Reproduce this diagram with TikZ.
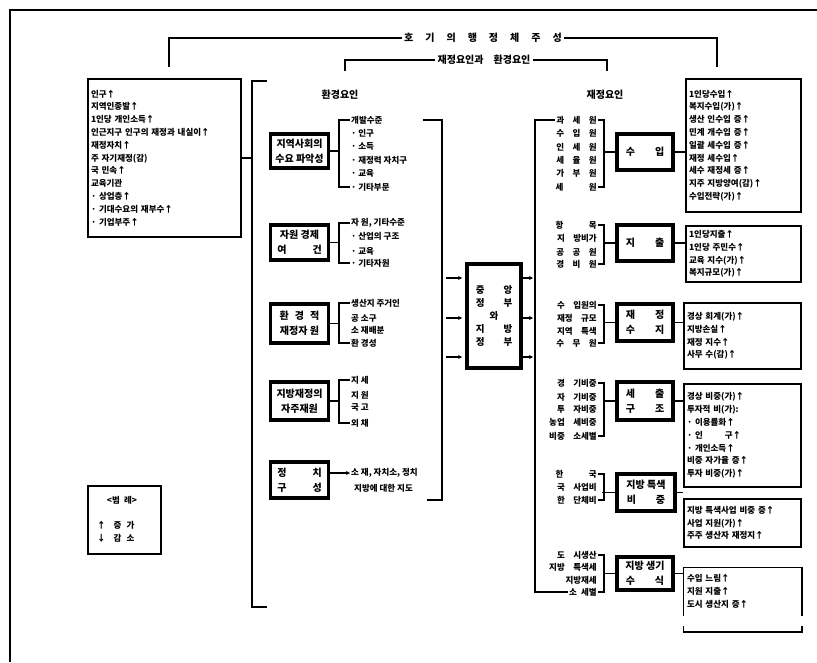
\documentclass[tikz,border=0pt]{standalone}
\usepackage{fontspec}
\setmainfont{Noto Sans CJK KR}
\usetikzlibrary{positioning,arrows.meta}

\newcommand\ksize{\fontsize{8.5}{12.8}\selectfont\bfseries}
\newcommand\bsize{\fontsize{10}{15}\selectfont\bfseries}
\newcommand\gp{\hspace{1.2em}}

\tikzset{
  line/.style={line width=1.5pt},
  thinbox/.style={draw, line width=1.5pt, inner sep=3pt, align=left, text width=#1},
  thickbox/.style={draw, line width=3.8pt, inner sep=0pt, align=center, font=\bsize, minimum width=58pt},
  item/.style={inner sep=1pt, anchor=west},
  ritem/.style={inner sep=1pt, anchor=east},
  lbl/.style={inner sep=2pt, font=\fontsize{10}{12}\selectfont\bfseries},
  arr/.style={-{Stealth[length=4pt,width=4pt]}, line width=1.2pt},
}

\begin{document}
\begin{tikzpicture}[x=1pt,y=-1pt,font=\ksize]
\useasboundingbox (0,0) rectangle (817,662);
\draw[line width=2pt] (10,662) -- (10,10) -- (817,10);

% top brackets
\node[lbl] (title) at (483,38) {호\gp 기\gp 의\gp 행\gp 정\gp 체\gp 주\gp 성};
\coordinate (tl) at (169,67);
\coordinate (tr) at (717,67);
\draw[line] (tl) |- (title.west);
\draw[line] (title.east) -| (tr);

\node[lbl] (mid) at (484,60) {재정요인과\quad 환경요인};
\coordinate (ml) at (345,71);
\coordinate (mr) at (607,71);
\draw[line] (ml) |- (mid.west);
\draw[line] (mid.east) -| (mr);

\node[lbl] (env) at (340,95) {환경요인};
\node[lbl] (fin) at (605,95) {재정요인};

% left box
\node[thinbox=147pt, minimum height=158pt] (lbox) at (164.5,158) {인구↑\\
지역인종발↑\\
1인당 개인소득↑\\
인근지구 인구의 재정과 내실이↑\\
재정자치↑\\
주 자기재정(감)\\
국 민속↑\\
교육기관\\
· 상업층↑\\
· 기대수요의 재부수↑\\
· 기업부주↑};

% big left bracket
\coordinate (lb1) at (267,81);
\coordinate (lb2) at (252,81);
\coordinate (lb3) at (252,607);
\coordinate (lb4) at (267,607);
\draw[line] (lb1) -- (lb2) -- (lb3) -- (lb4);
\draw[line] (lbox.east) -- (lbox.east -| lb2);

% environment factors
\node[thickbox, minimum height=34pt] (e1) at (299.5,151) {지역사회의\\수요 파악성};
\node[item] (e1a) at (350,120) {개발수준};
\node[item] (e1b) at (350,133) {· 인구};
\node[item] (e1c) at (350,146) {· 소득};
\node[item] (e1d) at (350,160) {· 재정력 자치구};
\node[item] (e1e) at (350,173) {· 교육};
\node[item] (e1f) at (350,187) {· 기타부문};
\draw[line] (e1.east) -- ++(8.5,0);
\draw[line] (e1a.west) -- ++(-11,0) |- (e1f.west);

\node[thickbox, minimum height=35pt] (e2) at (299.5,242.5) {자원 경제\\여\hspace{26pt}건};
\node[item] (e2a) at (350,223) {자 원, 기타수준};
\node[item] (e2b) at (350,236) {· 산업의 구조};
\node[item] (e2c) at (350,251) {· 교육};
\node[item] (e2d) at (350,263) {· 기타자원};
\draw[line] (e2.east) -- ++(8.5,0);
\draw[line] (e2a.west) -- ++(-11,0) |- (e2d.west);

\node[thickbox, minimum height=39pt] (e3) at (299.5,323.5) {환\hspace{6pt}경\hspace{6pt}적\\재정자 원};
\node[item] (e3a) at (350,303) {생산지 주거인};
\node[item] (e3b) at (350,318) {공 소구};
\node[item] (e3c) at (350,330) {소 재배분};
\node[item] (e3d) at (350,343) {환 경성};
\draw[line] (e3.east) -- ++(8.5,0);
\draw[line] (e3a.west) -- ++(-11,0) |- (e3d.west);

\node[thickbox, minimum height=38pt] (e4) at (299.5,401) {지방재정의\\자주재원};
\node[item] (e4a) at (350,380) {지 세};
\node[item] (e4b) at (350,395) {지 원};
\node[item] (e4c) at (350,407) {국 고};
\node[item] (e4d) at (350,423) {외 채};
\draw[line] (e4.east) -- ++(8.5,0);
\draw[line] (e4a.west) -- ++(-11,0) |- (e4d.west);

\node[thickbox, minimum height=36pt] (e5) at (299.5,480) {정\hspace{26pt}치\\구\hspace{26pt}성};
\node[item] (e5a) at (350,473) {소 재, 자치소, 정치};
\node[item] (e5b) at (353,488) {지방에 대한 지도};
\draw[arr] (e5.east |- e5a.west) -- (e5a.west);

% right bracket of environment column
\coordinate (er1) at (423,120);
\coordinate (er2) at (442,120);
\coordinate (er3) at (442,500);
\coordinate (er4) at (427,500);
\draw[line] (er1) -- (er2) -- (er3) -- (er4);

% centre box
\node[thickbox, minimum width=54pt, minimum height=104pt, font=\fontsize{9.5}{13}\selectfont\bfseries] (cbox) at (494,316)
  {중\hspace{19pt}앙\\정\hspace{19pt}부\\와\\지\hspace{19pt}방\\정\hspace{19pt}부};
\coordinate (i1) at (446,278);
\coordinate (i2) at (446,318);
\coordinate (i3) at (446,357);
\draw[arr, shorten >=3pt] (i1) -- (i1 -| cbox.west);
\draw[arr, shorten >=3pt] (i2) -- (i2 -| cbox.west);
\draw[arr, shorten >=3pt] (i3) -- (i3 -| cbox.west);

% fiscal column
\coordinate (colx) at (535,0);
\coordinate (o1) at (535,278);
\coordinate (o2) at (535,318);
\coordinate (o3) at (535,357);
\draw[arr, shorten >=2pt] (cbox.east |- o1) -- (o1);
\draw[arr, shorten >=2pt] (cbox.east |- o2) -- (o2);
\draw[arr, shorten >=2pt] (cbox.east |- o3) -- (o3);

\node[ritem] (aa) at (598,120) {과\quad 세\quad 원};
\node[ritem] (ab) at (598,133) {수\quad 입\quad 원};
\node[ritem] (ac) at (598,147) {인\quad 세\quad 원};
\node[ritem] (ad) at (598,160) {세\quad 율\quad 원};
\node[ritem] (ae) at (598,173) {가\quad 부\quad 원};
\node[ritem] (af) at (598,187) {세\hspace{25.5pt}원};
\node[thickbox, minimum width=56pt, minimum height=36pt] (fa) at (645,152) {수\hspace{20pt}입};
\draw[line] (aa.east) -- ++(6,0) |- (af.east);
\draw[line] (fa.west) -- ++(-12,0);

\node[ritem] (ba) at (598,225) {항\hspace{25.5pt}목};
\node[ritem] (bb) at (598,238) {지\quad 방비가};
\node[ritem] (bc) at (598,252) {공\quad 공\quad 원};
\node[ritem] (bd) at (598,264) {경\quad 비\quad 원};
\node[thickbox, minimum width=56pt, minimum height=36pt] (fb) at (645,243) {지\hspace{20pt}출};
\draw[line] (ba.east) -- ++(6,0) |- (bd.east);
\draw[line] (fb.west) -- ++(-12,0);

\node[ritem] (ca) at (598,305) {수\quad 입원의};
\node[ritem] (cb) at (598,318) {재정\quad 규모};
\node[ritem] (cc) at (598,331) {지역\quad 특색};
\node[ritem] (cd) at (598,343) {수\quad 무\quad 원};
\node[thickbox, minimum width=56pt, minimum height=37pt] (fc) at (645,322.5) {재\hspace{20pt}정\\수\hspace{20pt}지};
\draw[line] (ca.east) -- ++(6,0) |- (cd.east);
\draw[line] (fc.west) -- ++(-12,0);

\node[ritem] (da) at (598,383) {경\quad 기비중};
\node[ritem] (db) at (598,397) {자\quad 기비중};
\node[ritem] (dc) at (598,409) {투\quad 자비중};
\node[ritem] (dd) at (598,422) {농업\quad 세비중};
\node[ritem] (de) at (598,436) {비중\quad 소세별};
\node[thickbox, minimum width=56pt, minimum height=38pt] (fd) at (645,401) {세\hspace{20pt}출\\구\hspace{20pt}조};
\draw[line] (da.east) -- ++(6,0) |- (de.east);
\draw[line] (fd.west) -- ++(-12,0);

\node[ritem] (ea) at (598,474) {한\hspace{25.5pt}국};
\node[ritem] (eb) at (598,487) {국\quad 사업비};
\node[ritem] (ec) at (598,500) {한\quad 단체비};
\node[thickbox, minimum width=58pt, minimum height=37pt] (fe) at (646,492.5) {지방 특색\\비\hspace{20pt}중};
\draw[line] (ea.east) -- ++(6,0) |- (ec.east);
\draw[line] (fe.west) -- ++(-13,0);

\node[ritem] (ga) at (598,555) {도\quad 시생산};
\node[ritem] (gb) at (598,567) {지방\quad 특색세};
\node[ritem] (gc) at (598,580) {지방재세};
\node[ritem] (gd) at (598,592) {소\enspace 세별};
\node[thickbox, minimum width=56pt, minimum height=33pt] (ff) at (645,573.5) {지방 생기\\수\hspace{20pt}식};
\draw[line] (ga.east) -- ++(6,0) |- (gd.east);
\draw[line] (ff.west) -- ++(-12,0);

\draw[line] (aa.west) -- (aa.west -| colx) -- (gd.west -| colx) -- (gd.west);

% result boxes
\node[thinbox=109pt, minimum height=133pt] (r1) at (743.5,145.5) {1인당수입↑\\
복지수입(가)↑\\
생산 인수입 증↑\\
민계 개수입 증↑\\
일괄 세수입 증↑\\
재정 세수입↑\\
세수 재정세 증↑\\
지주 지방양여(감)↑\\
수입전략(가)↑};
\node[thinbox=109pt, minimum height=56pt] (r2) at (743.5,254) {1인당지출↑\\
1인당 주민수↑\\
교육 지수(가)↑\\
복지규모(가)↑};
\node[thinbox=111pt, minimum height=66pt] (r3) at (742.5,336) {경상 회계(가)↑\\
지방손실↑\\
재정 지수↑\\
사무 수(감)↑};
\node[thinbox=111pt, minimum height=103pt] (r4) at (742.5,435.5) {경상 비중(가)↑\\
투자적 비(가):\\
· 이용률화↑\\
· 인\hspace{22pt}구↑\\
· 개인소득↑\\
비중 자가율 증↑\\
투자 비중(가)↑};
\node[thinbox=111pt, minimum height=48pt] (r5) at (742.5,523) {지방 특색사업 비중 증↑\\
사업 지원(가)↑\\
주주 생산자 재정지↑};
\node[thinbox=111pt, minimum height=47pt, draw=none] (r6) at (742.5,591.5) {수입 느림↑\\
지원 지출↑\\
도시 생산지 증↑};
\draw[line] (r6.south west) -- (r6.north west) -- (r6.north east) -- (r6.south east);
\draw[line] ([yshift=-10pt]r6.south west) -- ([yshift=-16pt]r6.south west) -- ([yshift=-16pt]r6.south east) -- ([yshift=-10pt]r6.south east);

\draw[line] (fa.east) -- (fa.east -| r1.west);
\draw[line] (fb.east) -- (fb.east -| r2.west);
\draw[line] (fc.east) -- (fc.east -| r3.west);
\draw[line] (fd.east) -- (fd.east -| r4.west);
\draw[line] (fe.east) -- (fe.east -| r5.west);
\draw[line] (ff.east) -- (ff.east -| r6.west);

% legend
\node[draw, line width=1.5pt, minimum width=73pt, minimum height=68pt] (leg) at (124.5,520) {};
\node (legt) at (122,500) {<범\enspace 례>};
\node[item] (legu) at (96,525) {↑\hspace{8pt}증\hspace{5pt}가};
\node[item] (legd) at (96,538) {↓\hspace{8pt}감\hspace{5pt}소};
\end{tikzpicture}
\end{document}
